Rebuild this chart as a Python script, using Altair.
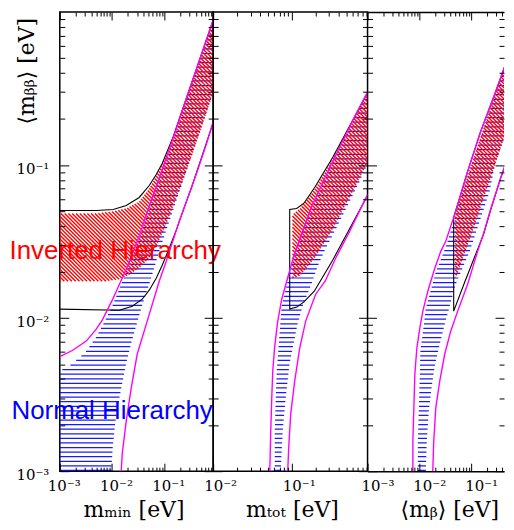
import math
import altair as alt
import pandas as pd

# ---------------- values (all in eV) ----------------
Y_DOMAIN = [0.001, 1.0]
X1_DOMAIN = [0.001, 0.861]   # m_min
X2_DOMAIN = [0.01, 0.924]    # m_tot
X3_DOMAIN = [0.001, 0.4315]  # <m_beta> (visible part)

# ---- panel 1 : m_min ----
p1_nh_x = [0.001, 0.001, 0.001519, 0.002359, 0.003211, 0.004987, 0.006496, 0.01009, 0.01869, 0.03312,
           0.05143, 0.07989, 0.148, 0.2623, 0.4649, 0.861, 0.861, 0.5305, 0.3416, 0.1927, 0.1087,
           0.07989, 0.05143, 0.03779, 0.03033, 0.0233, 0.01869, 0.01404, 0.01151, 0.01031, 0.009654]
p1_nh_y = [0.001, 0.004516, 0.004868, 0.005488, 0.006095, 0.007519, 0.008868, 0.01197, 0.01994, 0.0332,
           0.05129, 0.07925, 0.1466, 0.2612, 0.4652, 0.8607, 0.2967, 0.1836, 0.1171, 0.06619, 0.03744,
           0.0273, 0.01665, 0.01215, 0.009417, 0.006872, 0.005089, 0.003104, 0.00207, 0.001422, 0.001]
p1_ih_x = [0.001, 0.004987, 0.01054, 0.01869, 0.03312, 0.05143, 0.09116, 0.148, 0.2623, 0.4649, 0.861,
           0.861, 0.5305, 0.3416, 0.1927, 0.1087, 0.07645, 0.05143, 0.03779, 0.02903, 0.02041, 0.01373,
           0.007746, 0.001]
p1_ih_y = [0.04831, 0.04831, 0.0498, 0.05207, 0.05783, 0.07029, 0.1008, 0.151, 0.2671, 0.4723, 0.8738,
           0.2967, 0.1808, 0.1171, 0.06822, 0.04096, 0.03127, 0.0246, 0.02214, 0.02055, 0.01906, 0.01795,
           0.01742, 0.01742]
p1_blk_up_x = [0.001, 0.004987, 0.01054, 0.01869, 0.03312, 0.05143, 0.07, 0.09116, 0.148, 0.2623, 0.4649, 0.861]
p1_blk_up_y = [0.05053, 0.05053, 0.05129, 0.05448, 0.06142, 0.07353, 0.08672, 0.1023, 0.1533, 0.2712, 0.4794, 0.887]
p1_blk_lo_x = [0.001, 0.01373, 0.02433, 0.03779, 0.05143, 0.07, 0.09116, 0.1241, 0.1688, 0.2298, 0.3268, 0.5075, 0.861]
p1_blk_lo_y = [0.01145, 0.01127, 0.01197, 0.01329, 0.01522, 0.01822, 0.02214, 0.02858, 0.03744, 0.05053,
               0.07029, 0.1103, 0.1891]
p1_mag_up_x = [0.001, 0.001734, 0.003211, 0.004987, 0.006496, 0.01009, 0.01869, 0.03312, 0.05143, 0.09116,
               0.148, 0.2623, 0.4649, 0.861]
p1_mag_up_y = [0.005613, 0.006143, 0.00708, 0.008481, 0.009705, 0.0131, 0.02086, 0.03421, 0.05366, 0.09347,
               0.151, 0.2712, 0.4794, 0.887]
p1_mag_lo_x = [0.01499, 0.01567, 0.01869, 0.0233, 0.03033, 0.0471, 0.07989, 0.1087, 0.1927, 0.4257, 0.6326, 0.861]
p1_mag_lo_y = [0.001, 0.0013, 0.002133, 0.003499, 0.005828, 0.009561, 0.01742, 0.02351, 0.04284, 0.09072, 0.136, 0.192]

# ---- panel 2 : m_tot ----
p2_nh_x = [0.06081, 0.06081, 0.06262, 0.06448, 0.06737, 0.07039, 0.07463, 0.08389, 0.09432, 0.1264, 0.1795,
           0.3224, 0.6317, 0.924, 0.924, 0.7311, 0.6135, 0.4855, 0.3624, 0.2626, 0.214, 0.178, 0.138, 0.1192,
           0.106, 0.09376, 0.08389, 0.07684, 0.07248]
p2_nh_y = [0.001, 0.001836, 0.003012, 0.004516, 0.006095, 0.00822, 0.01197, 0.01545, 0.01994, 0.0337, 0.05207,
           0.1, 0.2009, 0.2922, 0.1023, 0.0781, 0.06521, 0.05129, 0.038, 0.02773, 0.02182, 0.01665, 0.01197,
           0.009278, 0.006872, 0.005014, 0.003012, 0.001836, 0.001]
p2_ih_x = [0.1021, 0.1279, 0.1995, 0.3368, 0.6353, 0.924, 0.924, 0.6353, 0.3368, 0.1995, 0.1279, 0.1021]
p2_ih_y = [0.0476, 0.05207, 0.07029, 0.1119, 0.207, 0.2922, 0.1038, 0.07135, 0.03858, 0.02497, 0.01891, 0.01822]
p2_blk_x = [0.924, 0.6317, 0.3319, 0.196, 0.1421, 0.1157, 0.09432, 0.09432, 0.1157, 0.1421, 0.1938, 0.3319,
            0.6317, 0.924]
p2_blk_y = [0.2967, 0.207, 0.1119, 0.07135, 0.05612, 0.05207, 0.05129, 0.01145, 0.0118, 0.01271, 0.01499,
            0.02386, 0.04416, 0.06329]
p2_mag_up_x = [0.05254, 0.0541, 0.05571, 0.05736, 0.06081, 0.06639, 0.07463, 0.08638, 0.106, 0.1302, 0.1795,
               0.3224, 0.6317, 0.924]
p2_mag_up_y = [0.001, 0.001836, 0.003012, 0.004516, 0.00657, 0.009561, 0.01329, 0.01742, 0.02534, 0.03421,
               0.05366, 0.1023, 0.207, 0.3012]
p2_mag_lo_x = [0.08894, 0.09158, 0.09712, 0.1092, 0.1264, 0.1506, 0.2018, 0.2665, 0.3624, 0.5457, 0.924]
p2_mag_lo_y = [0.001, 0.001422, 0.002369, 0.00389, 0.006376, 0.009561, 0.01433, 0.01742, 0.0246, 0.03687, 0.06424]

# ---- panel 3 : <m_beta> ----
p3_nh_x = [0.009358, 0.009358, 0.009781, 0.01022, 0.01045, 0.01168, 0.01334, 0.01664, 0.02077, 0.0338, 0.05262,
           0.1022, 0.2959, 0.6864, 0.6864, 0.2959, 0.2269, 0.09359, 0.05035, 0.03859, 0.03162, 0.0248, 0.01987,
           0.01739, 0.01523, 0.01394, 0.01334]
p3_nh_y = [0.001, 0.00158, 0.002593, 0.004317, 0.006095, 0.007985, 0.01162, 0.01522, 0.01994, 0.03035, 0.0498,
           0.1, 0.2967, 0.667, 0.2299, 0.1038, 0.0672, 0.0273, 0.01665, 0.01197, 0.009417, 0.00677, 0.004868,
           0.003606, 0.002478, 0.00158, 0.001]
p3_ih_x = [0.04903, 0.05256, 0.0704, 0.1116, 0.2058, 0.6864, 0.6864, 0.3039, 0.2058, 0.1116, 0.0704, 0.05256, 0.04903]
p3_ih_y = [0.0476, 0.05207, 0.07029, 0.1113, 0.207, 0.6571, 0.2368, 0.1054, 0.07135, 0.03858, 0.02497, 0.01891, 0.01822]
p3_blk_x = [0.6864, 0.5035, 0.2831, 0.1523, 0.08563, 0.04607, 0.04607, 0.07499, 0.1334, 0.1739, 0.2371, 0.3693, 0.6864]
p3_blk_y = [0.6873, 0.4942, 0.2879, 0.1653, 0.09072, 0.0455, 0.01111, 0.01716, 0.02815, 0.03525, 0.05053, 0.08168, 0.1488]
p3_mag_up_x = [0.0075, 0.0075, 0.007838, 0.008194, 0.008952, 0.01022, 0.01168, 0.01457, 0.01987, 0.02592, 0.03233,
               0.04817, 0.08563, 0.1523, 0.2831, 0.5035, 0.6864]
p3_mag_up_y = [0.001, 0.00158, 0.002593, 0.004317, 0.006376, 0.008607, 0.01111, 0.01499, 0.02117, 0.0273, 0.0318,
               0.0476, 0.09072, 0.1653, 0.2879, 0.4942, 0.6873]
p3_mag_lo_x = [0.01818, 0.019, 0.02077, 0.0248, 0.03094, 0.04035, 0.05501, 0.08563, 0.1334, 0.1739, 0.2371, 0.3693, 0.6864]
p3_mag_lo_y = [0.001, 0.00158, 0.002593, 0.00389, 0.005828, 0.00822, 0.01111, 0.01665, 0.0273, 0.03578, 0.05129,
               0.08168, 0.1488]

ANNOT_TEXT = ["Inverted Hierarchy", "Normal Hierarchy"]
ANNOT_Y = [0.02424, 0.002198]
ANNOT_COLOR = ["#ff0000", "#0000ff"]

X_TITLES = ["m\u2098\u1d62\u2099 [eV]", "m\u209c\u2092\u209c [eV]", "\u27e8m\u1d66\u27e9 [eV]"]
Y_TITLE = "\u27e8m\u1d66\u1d66\u27e9 [eV]"
MAJOR = [0.001, 0.01, 0.1]
MINOR = [round(k * 10.0 ** e, 6) for e in (-3, -2, -1) for k in range(2, 10)]

# ---------------- layout / styling ----------------
H = 461
W1, W2, W3 = 154, 155, 137
SERIF = "DejaVu Serif"
LABEL_EXPR = ("datum.value < 0.002 ? '10\u207b\u00b3' : datum.value < 0.02 ? '10\u207b\u00b2' : "
              "datum.value < 0.2 ? '10\u207b\u00b9' : '10\u2070'")
BLUE_PERIOD, RED_PERIOD = 4.6, 3.8   # hatch spacing in pixels


# ---------- helpers: scale mapping (same as the chart's log scales) ----------
def px_x(v, dom, w):
    return w * math.log10(v / dom[0]) / math.log10(dom[1] / dom[0])


def px_y(v):
    return H * math.log10(Y_DOMAIN[1] / v) / math.log10(Y_DOMAIN[1] / Y_DOMAIN[0])


def inv_x(p, dom, w):
    return dom[0] * 10 ** (p / w * math.log10(dom[1] / dom[0]))


def inv_y(p):
    return Y_DOMAIN[1] * 10 ** (-p / H * math.log10(Y_DOMAIN[1] / Y_DOMAIN[0]))


def hatch_segments(pts, period, diagonal):
    """Cut the polygon with equally spaced lines (horizontal, or '\\' diagonal) -> inner segments."""
    if diagonal:
        uv = [(x - y, x + y) for x, y in pts]
    else:
        uv = [(y, x) for x, y in pts]
    us = [p[0] for p in uv]
    segs = []
    for k in range(math.ceil(min(us) / period), math.floor(max(us) / period) + 1):
        c = k * period + 0.25
        cuts = []
        for i in range(len(uv)):
            u1, v1 = uv[i - 1]
            u2, v2 = uv[i]
            if (u1 <= c < u2) or (u2 <= c < u1):
                t = (c - u1) / (u2 - u1)
                cuts.append(v1 + t * (v2 - v1))
        cuts.sort()
        for a, b in zip(cuts[0::2], cuts[1::2]):
            if b - a < 0.4:
                continue
            if diagonal:
                segs.append(((c + a) / 2, (a - c) / 2, (c + b) / 2, (b - c) / 2))
            else:
                segs.append((a, c, b, c))
    return segs


def lines_df(segs):
    rows = []
    for s, (xs, ys) in enumerate(segs):
        for i, (a, b) in enumerate(zip(xs, ys)):
            rows.append({"x": a, "y": b, "i": i, "seg": s})
    return pd.DataFrame(rows)


def panel(dom, w, nh, ih, blk, mag, title, title_x, label_dx, first, open_right):
    xs = alt.Scale(type="log", domain=dom, nice=False)
    ys = alt.Scale(type="log", domain=Y_DOMAIN, nice=False)
    maj = [v for v in MAJOR if dom[0] * 0.999 <= v <= dom[1]]
    mnr = [v for v in MINOR if dom[0] < v < dom[1]]

    ax_a = alt.Axis(orient="bottom", values=maj, tickSize=8, offset=-8, labelExpr=LABEL_EXPR,
                    labelFontSize=15, labelPadding=7, labelOffset=label_dx, labelFlush=False,
                    labelOverlap=False, title=title, titleFontSize=22, titleX=title_x, titleY=47,
                    titleAlign="center", titleBaseline="middle", zindex=1)
    ax_b = alt.Axis(orient="bottom", values=mnr, tickSize=4, offset=-4, labels=False, title=None, zindex=1)
    ax_c = alt.Axis(orient="top", values=maj, tickSize=8, offset=-8, labels=False, title=None, zindex=1)
    ax_d = alt.Axis(orient="top", values=mnr, tickSize=4, offset=-4, labels=False, title=None, zindex=1)
    if first:
        ax_e = alt.Axis(orient="left", values=MAJOR, tickSize=9, offset=-9, labelExpr=LABEL_EXPR,
                        labelFontSize=15, labelPadding=11, labelOffset=3, labelFlush=False, labelOverlap=False,
                        title=Y_TITLE, titleFontSize=22, titleAngle=270, titleX=-42, titleY=59,
                        titleAlign="center", titleBaseline="middle", zindex=1)
    else:
        ax_e = alt.Axis(orient="left", values=MAJOR, tickSize=9, offset=-9, labels=False, title=None, zindex=1)
    ax_f = alt.Axis(orient="left", values=MINOR, tickSize=5, offset=-5, labels=False, title=None, zindex=1)
    ax_g = alt.Axis(orient="right", values=MAJOR, tickSize=9, offset=-9, labels=False, title=None, zindex=1)
    ax_h = alt.Axis(orient="right", values=MINOR, tickSize=5, offset=-5, labels=False, title=None, zindex=1)

    def hatch_df(band, period, diagonal):
        pts = [(px_x(a, dom, w), px_y(b)) for a, b in zip(*band)]
        segs = hatch_segments(pts, period, diagonal)
        return pd.DataFrame({"x": [inv_x(s[0], dom, w) for s in segs],
                             "y": [inv_y(s[1]) for s in segs],
                             "x2": [inv_x(s[2], dom, w) for s in segs],
                             "y2": [inv_y(s[3]) for s in segs]})

    blue = alt.Chart(hatch_df(nh, BLUE_PERIOD, False)).mark_rule(
        color="#0000ff", strokeWidth=1.25, opacity=0.9, clip=True).encode(
        x=alt.X("x:Q", scale=xs, axis=ax_a), y=alt.Y("y:Q", scale=ys, axis=ax_e), x2="x2:Q", y2="y2:Q")
    red = alt.Chart(hatch_df(ih, RED_PERIOD, True)).mark_rule(
        color="#ff0000", strokeWidth=1.4, opacity=1.0, clip=True).encode(
        x=alt.X("x:Q", scale=xs, axis=ax_b), y=alt.Y("y:Q", scale=ys, axis=ax_f), x2="x2:Q", y2="y2:Q")
    black = alt.Chart(lines_df(blk)).mark_line(color="black", strokeWidth=1.1, clip=True).encode(
        x=alt.X("x:Q", scale=xs, axis=ax_c), y=alt.Y("y:Q", scale=ys, axis=ax_g),
        detail="seg:N", order="i:Q")
    mag_df = lines_df(mag)
    magenta = alt.Chart(mag_df).mark_line(color="#ff00ff", strokeWidth=1.4, clip=True).encode(
        x=alt.X("x:Q", scale=xs, axis=ax_d), y=alt.Y("y:Q", scale=ys, axis=ax_h),
        detail="seg:N", order="i:Q")
    layers = [blue, red, black, magenta]
    if first:
        for t, yv, c, dx in zip(ANNOT_TEXT, ANNOT_Y, ANNOT_COLOR, [-50.5, -48.5]):
            layers.append(
                alt.Chart(pd.DataFrame({"y": [yv], "t": [t]})).mark_text(
                    align="left", baseline="alphabetic", font="Liberation Sans", fontSize=26, color=c
                ).encode(x=alt.value(dx), y=alt.Y("y:Q", scale=ys, axis=None), text="t:N"))
    if open_right:
        # frame on top and bottom only (the figure is cut on the right)
        for orient in ("top", "bottom"):
            layers.append(
                alt.Chart(mag_df).mark_line(opacity=0, clip=True).encode(
                    x=alt.X("x:Q", scale=xs,
                            axis=alt.Axis(orient=orient, domain=True, domainColor="black", domainWidth=1.5,
                                          ticks=False, labels=False, title=None, offset=0, zindex=2)),
                    y=alt.Y("y:Q", scale=ys, axis=None), detail="seg:N", order="i:Q"))
    out = alt.layer(*layers).properties(width=w, height=H).resolve_axis(x="independent", y="independent")
    if open_right:
        out = out.properties(view=alt.ViewBackground(stroke="transparent"))
    return out


p1 = panel(X1_DOMAIN, W1, (p1_nh_x, p1_nh_y), (p1_ih_x, p1_ih_y),
           [(p1_blk_up_x, p1_blk_up_y), (p1_blk_lo_x, p1_blk_lo_y)],
           [(p1_mag_up_x, p1_mag_up_y), (p1_mag_lo_x, p1_mag_lo_y)], X_TITLES[0], 74, 4, True, False)
p2 = panel(X2_DOMAIN, W2, (p2_nh_x, p2_nh_y), (p2_ih_x, p2_ih_y),
           [(p2_blk_x, p2_blk_y)],
           [(p2_mag_up_x, p2_mag_up_y), (p2_mag_lo_x, p2_mag_lo_y)], X_TITLES[1], 79, 7, False, False)
p3 = panel(X3_DOMAIN, W3, (p3_nh_x, p3_nh_y), (p3_ih_x, p3_ih_y),
           [(p3_blk_x, p3_blk_y)],
           [(p3_mag_up_x, p3_mag_up_y), (p3_mag_lo_x, p3_mag_lo_y)], X_TITLES[2], 82, 10, False, True)

chart = alt.hconcat(p1, p2, p3, spacing=0, bounds="flush").resolve_scale(
    x="independent", y="independent"
).properties(
    padding={"left": 0, "top": 1, "right": 0, "bottom": 0}
).configure_view(
    stroke="black", strokeWidth=1.5
).configure_axis(
    grid=False, domain=False, minExtent=0, tickColor="black", tickWidth=1, labelColor="black",
    titleColor="black", labelFont=SERIF, titleFont=SERIF, titleFontWeight="normal"
)

chart.save("out.html", embed_options={"renderer": "svg", "actions": False})
